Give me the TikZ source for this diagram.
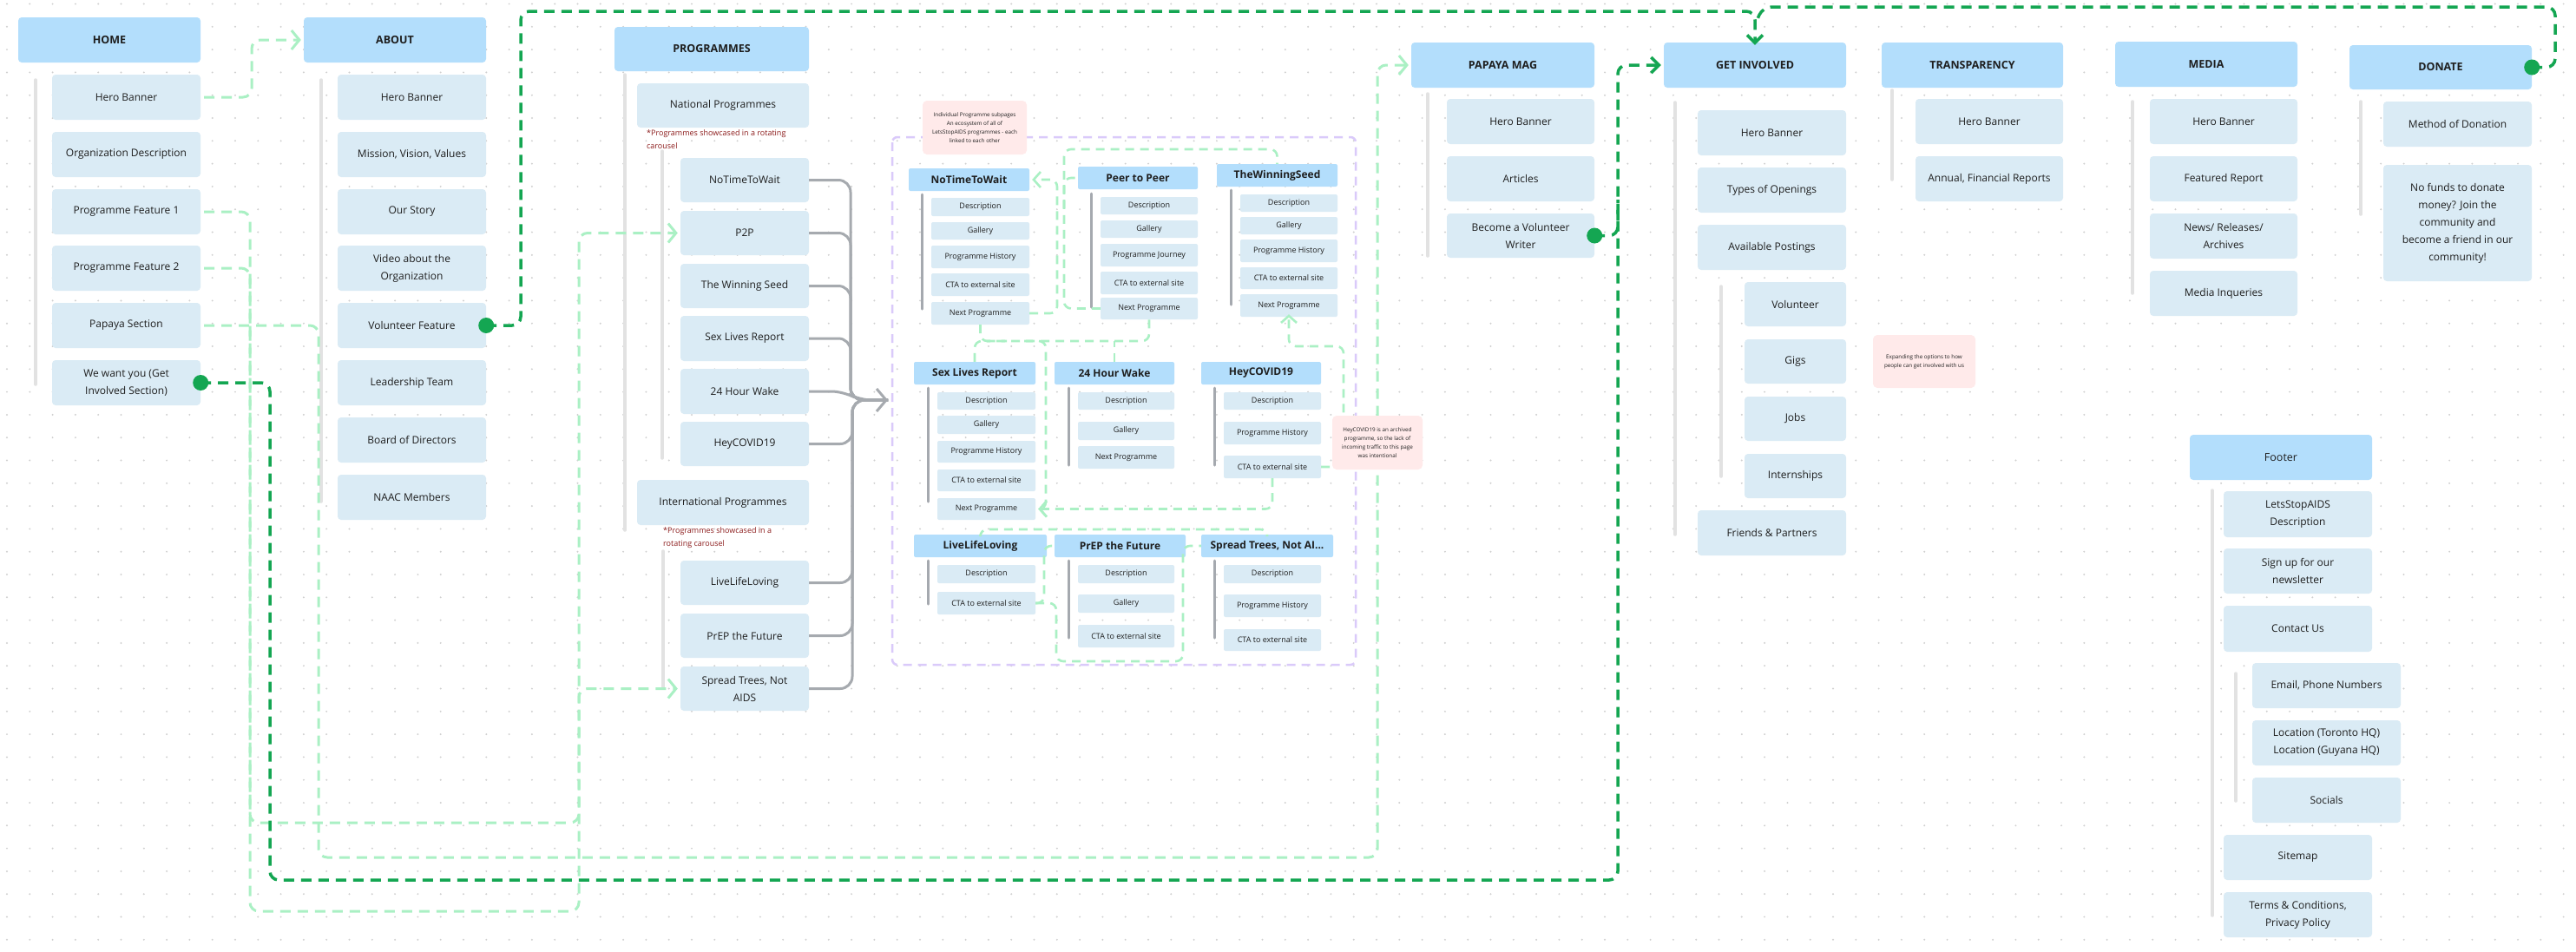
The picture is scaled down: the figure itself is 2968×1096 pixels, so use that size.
\documentclass[tikz,border=0pt]{standalone}
\usepackage{fontspec}
\setmainfont{Open Sans}
\usetikzlibrary{arrows.meta}
\definecolor{hdrblue}{RGB}{179,222,252}
\definecolor{itmblue}{RGB}{218,235,245}
\definecolor{txt}{RGB}{30,30,30}
\definecolor{vline}{RGB}{226,226,226}
\definecolor{pvline}{RGB}{165,169,175}
\definecolor{bracegray}{RGB}{166,170,175}
\definecolor{lgreen}{RGB}{170,240,196}
\definecolor{dgreen}{RGB}{20,166,82}
\definecolor{purp}{RGB}{218,202,250}
\definecolor{notepink}{RGB}{255,234,234}
\definecolor{notered}{RGB}{140,28,28}
\definecolor{dotc}{RGB}{208,208,208}
\newcommand{\bx}[7]{\node[#2, minimum width={(#5-#3)*1pt}, minimum height={(#6-#4)*1pt}] (#1) at ({(#3+#5)/2},{(#4+#6)/2}) {#7};}
\tikzset{
  hdr/.style={fill=hdrblue, rounded corners=4pt, font=\fontsize{12.5}{15}\selectfont\bfseries, text=txt, inner sep=2pt, align=center},
  hdrn/.style={fill=hdrblue, rounded corners=4pt, font=\fontsize{12.5}{15}\selectfont, text=txt, inner sep=2pt, align=center},
  itm/.style={fill=itmblue, rounded corners=4pt, font=\fontsize{12}{20}\selectfont, text=txt, inner sep=2pt, align=center},
  phdr/.style={fill=hdrblue, rounded corners=2pt, font=\fontsize{12}{14}\selectfont\bfseries, text=txt, inner sep=1pt, align=center},
  pitm/.style={fill=itmblue, rounded corners=2pt, font=\fontsize{9}{11}\selectfont, text=txt, inner sep=1pt, align=center},
  note/.style={fill=notepink, rounded corners=5pt, font=\fontsize{6.3}{10}\selectfont, text=txt, inner sep=1pt, align=center},
  rednote/.style={text=notered, font=\fontsize{9}{15}\selectfont, anchor=north west, align=left, inner sep=0pt},
  vl/.style={draw=vline, line width=3.5pt, line cap=round},
  pvl/.style={draw=pvline, line width=3pt, line cap=round},
  lg/.style={draw=lgreen, line width=3pt, dash pattern=on 12pt off 8pt, rounded corners=10pt},
  lgi/.style={draw=lgreen, line width=2.6pt, dash pattern=on 10pt off 7pt, rounded corners=8pt},
  dg/.style={draw=dgreen, line width=3.5pt, dash pattern=on 12pt off 8pt, rounded corners=10pt},
  brace/.style={draw=bracegray, line width=3pt, rounded corners=14pt},
  tipL/.style={-{Straight Barb[length=9pt,width=22pt]}},
  tipS/.style={-{Straight Barb[length=8pt,width=18pt]}},
  tipD/.style={-{Straight Barb[length=9pt,width=18pt]}},
  tipB/.style={-{Straight Barb[length=11pt,width=26pt]}}
}
\begin{document}
\begin{tikzpicture}[x=1pt,y=-1pt]
\useasboundingbox (0,0) rectangle (2968,1096);
\fill[white] (0,0) rectangle (2968,1096);
% dot grid
\foreach \j in {0,...,41}{
  \fill[dotc] \foreach \i in {0,...,112}{({8+26.3*\i},{4.5+26.3*\j}) circle (1.1pt)};
}

% column guide lines
\draw[vl] (41,92) -- (41,443);
\draw[vl] (370,92) -- (370,578);
\draw[vl] (720,86) -- (720,611);
\draw[vl] (763,174) -- (763,528);
\draw[vl] (764,635) -- (764,793);
\draw[vl] (1645,108) -- (1645,295);
\draw[vl] (1930,118) -- (1930,616);
\draw[vl] (1983,330) -- (1983,549);
\draw[vl] (2180,104) -- (2180,207);
\draw[vl] (2457,117) -- (2457,338);
\draw[vl] (2720,117) -- (2720,247);
\draw[vl] (2549,565) -- (2549,1055);
\draw[vl] (2576,776) -- (2576,923);
% programme page guide lines
\draw[pvl] (1062,224) -- (1062,356);
\draw[pvl] (1257,223) -- (1257,354);
\draw[pvl] (1418,219) -- (1418,351);
\draw[pvl] (1069,447) -- (1069,578);
\draw[pvl] (1231,447) -- (1231,536);
\draw[pvl] (1399,447) -- (1399,536);
\draw[pvl] (1069,646) -- (1069,696);
\draw[pvl] (1231,646) -- (1231,735);
\draw[pvl] (1399,646) -- (1399,735);

% purple frame
\draw[draw=purp, line width=2.5pt, dash pattern=on 10pt off 7pt, rounded corners=6pt] (1028,158) rectangle (1562,766);

% HOME
\bx{home}{hdr}{21}{20}{231}{72}{HOME}
\bx{h1}{itm}{60}{86}{231}{138}{Hero Banner}
\bx{h2}{itm}{60}{152}{231}{204}{Organization Description}
\bx{h3}{itm}{60}{218}{231}{270}{Programme Feature 1}
\bx{h4}{itm}{60}{283}{231}{335}{Programme Feature 2}
\bx{h5}{itm}{60}{349}{231}{401}{Papaya Section}
\bx{h6}{itm}{60}{415}{231}{467}{We want you (Get\\Involved Section)}
% ABOUT
\bx{about}{hdr}{350}{20}{560}{72}{ABOUT}
\bx{a1}{itm}{389}{86}{560}{138}{Hero Banner}
\bx{a2}{itm}{389}{152}{560}{204}{Mission, Vision, Values}
\bx{a3}{itm}{389}{218}{560}{270}{Our Story}
\bx{a4}{itm}{389}{283}{560}{335}{Video about the\\Organization}
\bx{a5}{itm}{389}{349}{560}{401}{Volunteer Feature}
\bx{a6}{itm}{389}{415}{560}{467}{Leadership Team}
\bx{a7}{itm}{389}{481}{560}{533}{Board of Directors}
\bx{a8}{itm}{389}{547}{560}{599}{NAAC Members}
% PROGRAMMES
\bx{prog}{hdr}{708}{31}{932}{82}{PROGRAMMES}
\bx{nat}{itm}{734}{96}{932}{147}{National Programmes}
\node[rednote] (rn1) at (745,149) {*Programmes showcased in a rotating\\carousel};
\bx{p1}{itm}{784}{182}{932}{233}{NoTimeToWait}
\bx{p2}{itm}{784}{243}{932}{294}{P2P}
\bx{p3}{itm}{784}{304}{932}{355}{The Winning Seed}
\bx{p4}{itm}{784}{364}{932}{416}{Sex Lives Report}
\bx{p5}{itm}{784}{425}{932}{477}{24 Hour Wake}
\bx{p6}{itm}{784}{486}{932}{537}{HeyCOVID19}
\bx{intl}{itm}{734}{553}{932}{605}{International Programmes}
\node[rednote] (rn2) at (764,607) {*Programmes showcased in a\\rotating carousel};
\bx{p7}{itm}{784}{646}{932}{697}{LiveLifeLoving}
\bx{p8}{itm}{784}{707}{932}{758}{PrEP the Future}
\bx{p9}{itm}{784}{768}{932}{819}{Spread Trees, Not\\AIDS}

% brace connectors
\coordinate (btip) at (1023,461);
\draw[brace] (p1.east) -- (980,207.5) -- (980,461) -- (btip);
\draw[brace] (p2.east) -- (980,268.5) -- (980,461) -- (btip);
\draw[brace] (p3.east) -- (980,329.5) -- (980,461) -- (btip);
\draw[brace] (p4.east) -- (980,390) -- (980,461) -- (btip);
\draw[brace] (p5.east) -- (972,451) -- (990,461) -- (btip);
\draw[brace] (p6.east) -- (982,511.5) -- (982,461) -- (btip);
\draw[brace] (p7.east) -- (982,671.5) -- (982,461) -- (btip);
\draw[brace] (p8.east) -- (982,732.5) -- (982,461) -- (btip);
\draw[brace] (p9.east) -- (982,793.5) -- (982,461) -- (btip);
\draw[brace,tipB] (1000,461) -- (btip);

% programme pages
\bx{ntw}{phdr}{1047}{194}{1186}{220}{NoTimeToWait}
\bx{ntw1}{pitm}{1073}{228}{1186}{249}{Description}
\bx{ntw2}{pitm}{1073}{256}{1186}{276}{Gallery}
\bx{ntw3}{pitm}{1073}{283}{1186}{309}{Programme History}
\bx{ntw4}{pitm}{1073}{315}{1186}{341}{CTA to external site}
\bx{ntw5}{pitm}{1073}{348}{1186}{374}{Next Programme}
\bx{ptp}{phdr}{1242}{192}{1380}{218}{Peer to Peer}
\bx{ptp1}{pitm}{1268}{227}{1380}{247}{Description}
\bx{ptp2}{pitm}{1268}{254}{1380}{274}{Gallery}
\bx{ptp3}{pitm}{1268}{281}{1380}{307}{Programme Journey}
\bx{ptp4}{pitm}{1268}{313}{1380}{339}{CTA to external site}
\bx{ptp5}{pitm}{1268}{343}{1380}{368}{Next Programme}
\bx{tws}{phdr}{1402}{189}{1541}{215}{TheWinningSeed}
\bx{tws1}{pitm}{1429}{224}{1541}{244}{Description}
\bx{tws2}{pitm}{1429}{250}{1541}{270}{Gallery}
\bx{tws3}{pitm}{1429}{276}{1541}{302}{Programme History}
\bx{tws4}{pitm}{1429}{308}{1541}{333}{CTA to external site}
\bx{tws5}{pitm}{1429}{339}{1541}{365}{Next Programme}
\bx{slr}{phdr}{1053}{417}{1193}{443}{Sex Lives Report}
\bx{slr1}{pitm}{1080}{452}{1193}{472}{Description}
\bx{slr2}{pitm}{1080}{479}{1193}{500}{Gallery}
\bx{slr3}{pitm}{1080}{508}{1193}{533}{Programme History}
\bx{slr4}{pitm}{1080}{541}{1193}{566}{CTA to external site}
\bx{slr5}{pitm}{1080}{574}{1193}{599}{Next Programme}
\bx{hw}{phdr}{1215}{417}{1353}{443}{24 Hour Wake}
\bx{hw1}{pitm}{1242}{452}{1353}{472}{Description}
\bx{hw2}{pitm}{1242}{486}{1353}{507}{Gallery}
\bx{hw3}{pitm}{1242}{514}{1353}{540}{Next Programme}
\bx{hc}{phdr}{1384}{417}{1522}{443}{HeyCOVID19}
\bx{hc1}{pitm}{1410}{452}{1522}{472}{Description}
\bx{hc2}{pitm}{1410}{486}{1522}{512}{Programme History}
\bx{hc3}{pitm}{1410}{525}{1522}{551}{CTA to external site}
\bx{lll}{phdr}{1053}{616}{1206}{642}{LiveLifeLoving}
\bx{lll1}{pitm}{1080}{651}{1193}{672}{Description}
\bx{lll2}{pitm}{1080}{682}{1193}{708}{CTA to external site}
\bx{prep}{phdr}{1215}{616}{1366}{642}{PrEP the Future}
\bx{prep1}{pitm}{1242}{651}{1353}{672}{Description}
\bx{prep2}{pitm}{1242}{685}{1353}{706}{Gallery}
\bx{prep3}{pitm}{1242}{720}{1353}{746}{CTA to external site}
\bx{st}{phdr}{1384}{616}{1536}{642}{Spread Trees, Not AI...}
\bx{st1}{pitm}{1410}{651}{1522}{672}{Description}
\bx{st2}{pitm}{1410}{685}{1522}{711}{Programme History}
\bx{st3}{pitm}{1410}{725}{1522}{750}{CTA to external site}

% inner links
\draw[lgi,tipS] (ntw5.east) -- (1218,361) -- (1218,207) -- ([xshift=3pt]ntw.east);
\draw[lgi] (1226,240) -- (1226,205) -- (ptp.west);
\draw[lgi] (ptp5.west) -- (1226,355.5) -- (1226,172) -- (1471.5,172) -- (tws.north);
\draw[lgi] (ntw5.south) -- (1129.5,393) -- (1324,393) -- (ptp5.south);
\draw[lgi] (slr.north) |- (1160,393);
\draw[lgi] (hw.north) -- (1284,393);
\draw[lgi,tipS] (1180,393) -- (1205,393) -- (1205,586.5) -- ([xshift=3pt]slr5.east);
\draw[lgi,tipS] (hc3.south) -- (1466,586.5) -- ([xshift=3pt]slr5.east);
\draw[lgi,tipS] (hc3.east) -- (1548,538) -- (1548,399) -- (1485,399) -- ([yshift=3pt]tws5.south);
\draw[lgi] (lll.north) -- (1129.5,610) -- (1460,610) -- (st.north);
\draw[lgi] (lll2.east) -- (1203,695) -- (1203,629) -- (prep.west);
\draw[lgi] (lll2.east) -- (1217,695) -- (1217,762) -- (1363,762) -- (1363,629) -- (st.west);

% PAPAYA MAG
\bx{pm}{hdr}{1626}{49}{1837}{101}{PAPAYA MAG}
\bx{pm1}{itm}{1667}{114}{1837}{166}{Hero Banner}
\bx{pm2}{itm}{1667}{180}{1837}{232}{Articles}
\bx{pm3}{itm}{1667}{246}{1837}{297}{Become a Volunteer\\Writer}
% GET INVOLVED
\bx{gi}{hdr}{1917}{49}{2127}{101}{GET INVOLVED}
\bx{gi1}{itm}{1956}{127}{2127}{179}{Hero Banner}
\bx{gi2}{itm}{1956}{193}{2127}{245}{Types of Openings}
\bx{gi3}{itm}{1956}{259}{2127}{311}{Available Postings}
\bx{gi4}{itm}{2010}{325}{2127}{376}{Volunteer}
\bx{gi5}{itm}{2010}{391}{2127}{442}{Gigs}
\bx{gi6}{itm}{2010}{457}{2127}{508}{Jobs}
\bx{gi7}{itm}{2010}{523}{2127}{574}{Internships}
\bx{gi8}{itm}{1956}{588}{2127}{640}{Friends \& Partners}
% TRANSPARENCY
\bx{tr}{hdr}{2168}{49}{2377}{101}{TRANSPARENCY}
\bx{tr1}{itm}{2207}{114}{2377}{166}{Hero Banner}
\bx{tr2}{itm}{2207}{180}{2377}{232}{Annual, Financial Reports}
% MEDIA
\bx{md}{hdr}{2437}{48}{2647}{100}{MEDIA}
\bx{md1}{itm}{2477}{114}{2647}{166}{Hero Banner}
\bx{md2}{itm}{2477}{180}{2647}{232}{Featured Report}
\bx{md3}{itm}{2477}{246}{2647}{298}{News/ Releases/\\Archives}
\bx{md4}{itm}{2477}{312}{2647}{364}{Media Inqueries}
% DONATE
\bx{dn}{hdr}{2707}{52}{2917}{103}{DONATE}
\bx{dn1}{itm}{2746}{117}{2917}{169}{Method of Donation}
\bx{dn2}{itm}{2746}{190}{2917}{324}{No funds to donate\\money? Join the\\community and\\become a friend in our\\community!}
% Footer
\bx{ft}{hdrn}{2523}{501}{2733}{553}{Footer}
\bx{ft1}{itm}{2562}{566}{2733}{619}{LetsStopAIDS\\Description}
\bx{ft2}{itm}{2562}{632}{2733}{684}{Sign up for our\\newsletter}
\bx{ft3}{itm}{2562}{698}{2733}{751}{Contact Us}
\bx{ft4}{itm}{2595}{764}{2766}{816}{Email, Phone Numbers}
\bx{ft5}{itm}{2595}{830}{2766}{882}{Location (Toronto HQ)\\Location (Guyana HQ)}
\bx{ft6}{itm}{2595}{896}{2766}{948}{Socials}
\bx{ft7}{itm}{2562}{962}{2733}{1014}{Sitemap}
\bx{ft8}{itm}{2562}{1028}{2733}{1080}{Terms \& Conditions,\\Privacy Policy}

% light green links
\draw[lg,tipL,shorten <=4pt] (h1.east) -- (290,112) -- (290,46) -- ([xshift=-3pt]about.west);
\draw[lg,tipL,shorten <=4pt] (h3.east) -- (288,244) -- (288,948) -- (667,948) -- (667,268.5) -- ([xshift=-3pt]p2.west);
\draw[lg,tipL,shorten <=4pt] (h4.east) -- (288,309) -- (288,1050) -- (667,1050) -- (667,793.5) -- ([xshift=-3pt]p9.west);
\draw[lg,tipL,shorten <=4pt] (h5.east) -- (367,375) -- (367,988) -- (1587,988) -- (1587,75) -- ([xshift=-3pt]pm.west);

% dark green links
\draw[dg,tipD] (a5.east) -- (600,375) -- (600,13) -- (2022,13) -- ([yshift=-3pt]gi.north);
\draw[dg] (dn.east) -- (2944,77.5) -- (2944,8) -- (2031,8) -- (2024,24);
\draw[dg,tipD] (h6.east) -- (311,441) -- (311,1014) -- (1864,1014) -- (1864,75) -- ([xshift=-3pt]gi.west);
\draw[dg] (pm3.east) -| (1864,230);
\fill[dgreen] (a5.east) circle (9pt);
\fill[dgreen] (dn.east) circle (9pt);
\fill[dgreen] (h6.east) circle (9pt);
\fill[dgreen] (pm3.east) circle (9pt);

% notes
\bx{n1}{note}{1063}{116}{1183}{178}{Individual Programme subpages\\An ecosystem of all of\\LetsStopAIDS programmes - each\\linked to each other}
\bx{n2}{note}{1535}{479}{1639}{541}{HeyCOVID19 is an archived\\programme, so the lack of\\incoming traffic to this page\\was intentional}
\bx{n3}{note}{2158}{386}{2276}{447}{Expanding the options to how\\people can get involved with us}
\end{tikzpicture}
\end{document}
